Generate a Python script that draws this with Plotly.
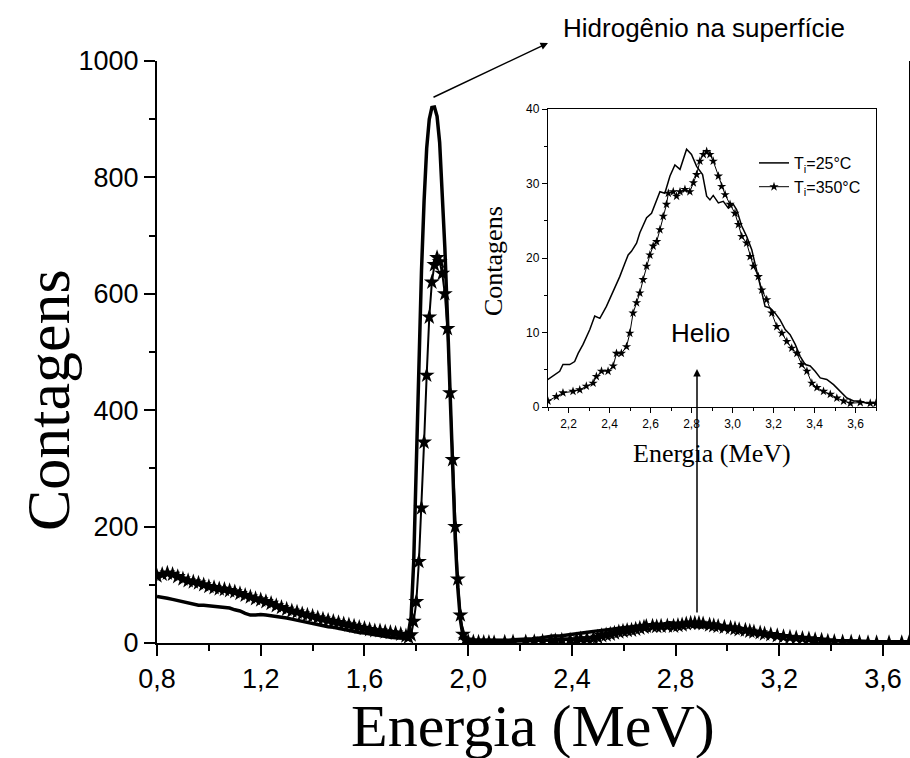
import plotly.graph_objects as go

# ---------------- data ----------------
# low-energy part, shared energy grid (MeV)
energy_low = [0.80, 0.82, 0.84, 0.86, 0.88, 0.90, 0.92, 0.94, 0.96, 0.98,
              1.00, 1.02, 1.04, 1.06, 1.08, 1.10, 1.12, 1.14, 1.16, 1.18,
              1.20, 1.22, 1.24, 1.26, 1.28, 1.30, 1.32, 1.34, 1.36, 1.38,
              1.40, 1.42, 1.44, 1.46, 1.48, 1.50, 1.52, 1.54, 1.56, 1.58,
              1.60, 1.62, 1.64, 1.66, 1.68, 1.70, 1.72, 1.74, 1.76]
counts25_low = [80, 79, 77, 75, 73, 71, 69, 67, 65, 65,
                64, 63, 63, 62, 60, 57, 55, 51, 48, 48,
                49, 48, 47, 46, 45, 43, 41, 39, 37, 35,
                33, 31, 30, 28, 27, 25, 24, 22, 20, 18,
                17, 15, 14, 13, 11, 10, 9, 8, 8]
counts350_low = [115, 118, 120, 118, 114, 110, 107, 105, 103, 100,
                 97, 95, 93, 92, 90, 88, 85, 82, 79, 76,
                 74, 71, 68, 64, 61, 58, 55, 53, 50, 48,
                 46, 43, 41, 39, 37, 35, 33, 31, 29, 27,
                 25, 23, 21, 21, 19, 18, 17, 15, 12]

# hydrogen (surface) peak region
energy_peak = [1.77, 1.78, 1.79, 1.80, 1.81, 1.82, 1.83, 1.84, 1.85, 1.86,
               1.87, 1.88, 1.89, 1.90, 1.91, 1.92, 1.93, 1.94, 1.95, 1.96,
               1.97, 1.98, 1.99, 2.00, 2.02, 2.04, 2.06, 2.08]
counts25_peak = [18, 45, 140, 320, 500, 640, 760, 850, 900, 920,
                 921, 905, 860, 780, 680, 560, 420, 290, 180, 95,
                 40, 12, 6, 5, 5, 4, 4, 4]
counts350_peak = [10, 14, 37, 71, 140, 232, 345, 460, 560, 620,
                  650, 662, 655, 635, 600, 540, 430, 315, 200, 110,
                  48, 15, 5, 3, 2, 1.5, 1.2, 1]

# helium region, T = 25 C
energy25_he = [2.100, 2.157, 2.173, 2.206, 2.230, 2.247, 2.271, 2.304, 2.328, 2.353,
               2.385, 2.418, 2.450, 2.475, 2.491, 2.507, 2.532, 2.548, 2.581, 2.605,
               2.630, 2.646, 2.670, 2.695, 2.719, 2.744, 2.776, 2.800, 2.825, 2.854,
               2.874, 2.890, 2.906, 2.931, 2.955, 2.980, 3.004, 3.020, 3.045, 3.069,
               3.094, 3.118, 3.143, 3.159, 3.183, 3.208, 3.232, 3.257, 3.281, 3.306,
               3.330, 3.355, 3.379, 3.403, 3.428, 3.460, 3.493, 3.526, 3.558, 3.591,
               3.623, 3.656, 3.700]
counts25_he = [3.7, 4.8, 5.7, 5.7, 6.1, 7.2, 8.4, 10.4, 12.2, 11.9,
               13.5, 15.5, 17.5, 19.3, 20.4, 20.9, 22.0, 23.4, 25.4, 26.0,
               27.8, 28.9, 28.7, 31.0, 32.5, 31.9, 34.6, 33.9, 32.3, 31.2,
               28.3, 27.8, 28.4, 27.4, 27.6, 26.7, 27.2, 26.5, 24.3, 22.9,
               21.1, 18.4, 15.7, 13.5, 13.3, 12.6, 11.7, 10.4, 9.7, 8.4,
               6.8, 5.7, 5.5, 4.8, 3.9, 3.7, 3.0, 2.1, 1.2, 0.8,
               0.8, 0.5, 0.5]

# helium region, T = 350 C
energy350_he = [2.100, 2.141, 2.173, 2.222, 2.255, 2.287, 2.320, 2.336, 2.361, 2.393,
                2.418, 2.434, 2.458, 2.483, 2.499, 2.515, 2.532, 2.548, 2.564, 2.581,
                2.597, 2.613, 2.630, 2.646, 2.662, 2.678, 2.687, 2.711, 2.727, 2.744,
                2.768, 2.792, 2.809, 2.825, 2.841, 2.858, 2.874, 2.890, 2.906, 2.931,
                2.947, 2.964, 2.988, 3.012, 3.029, 3.045, 3.069, 3.086, 3.102, 3.126,
                3.143, 3.167, 3.192, 3.216, 3.241, 3.265, 3.289, 3.314, 3.338, 3.363,
                3.387, 3.412, 3.444, 3.477, 3.509, 3.542, 3.575, 3.623, 3.672, 3.700]
counts350_he = [0.8, 1.4, 1.9, 2.1, 2.3, 2.8, 3.2, 4.1, 4.8, 4.8,
                5.5, 7.2, 7.2, 8.1, 9.9, 12.6, 14.0, 15.3, 17.1, 18.9,
                20.4, 21.6, 22.2, 23.8, 25.6, 27.2, 28.7, 28.9, 28.3, 28.9,
                29.2, 28.9, 30.1, 31.2, 33.0, 33.9, 34.3, 33.9, 33.0, 31.0,
                29.6, 28.5, 27.2, 26.0, 24.5, 22.9, 22.0, 20.2, 18.9, 17.5,
                15.7, 14.4, 12.6, 10.8, 9.9, 8.8, 7.9, 7.2, 5.7, 4.8,
                3.2, 2.6, 2.1, 1.7, 1.2, 0.8, 0.5, 0.6, 0.5, 0.5]

series_names = ["T<sub>i</sub>=25°C", "T<sub>i</sub>=350°C"]

main_xticks = [0.8, 1.2, 1.6, 2.0, 2.4, 2.8, 3.2, 3.6]
main_xticklabels = ["0,8", "1,2", "1,6", "2,0", "2,4", "2,8", "3,2", "3,6"]
main_yticks = [0, 200, 400, 600, 800, 1000]
main_yticklabels = ["0", "200", "400", "600", "800", "1000"]
inset_xticks = [2.2, 2.4, 2.6, 2.8, 3.0, 3.2, 3.4, 3.6]
inset_xticklabels = ["2,2", "2,4", "2,6", "2,8", "3,0", "3,2", "3,4", "3,6"]
inset_yticks = [0, 10, 20, 30, 40]
inset_yticklabels = ["0", "10", "20", "30", "40"]

# ---------------- assemble ----------------
e25 = energy_low + energy_peak + energy25_he
c25 = counts25_low + counts25_peak + counts25_he
e350 = energy_low + energy_peak + energy350_he
c350 = counts350_low + counts350_peak + counts350_he

W, H = 910, 758
def px(x):
    return x / W
def py(y):
    return 1 - y / H

SANS = "Liberation Sans, Arial, sans-serif"
SERIF = "Liberation Serif, Times New Roman, serif"

fig = go.Figure()
fig.add_trace(go.Scatter(x=e25, y=c25, mode="lines", xaxis="x", yaxis="y",
                         line=dict(color="black", width=3.5), showlegend=False,
                         name=series_names[0]))
fig.add_trace(go.Scatter(x=e350, y=c350, mode="lines+markers", xaxis="x", yaxis="y",
                         line=dict(color="black", width=2),
                         marker=dict(symbol="star", size=12, color="black"),
                         showlegend=False, name=series_names[1]))
fig.add_trace(go.Scatter(x=e25, y=c25, mode="lines", xaxis="x2", yaxis="y2",
                         line=dict(color="black", width=1.5), name=series_names[0]))
fig.add_trace(go.Scatter(x=e350, y=c350, mode="lines+markers", xaxis="x2", yaxis="y2",
                         line=dict(color="black", width=1),
                         marker=dict(symbol="star", size=7, color="black"),
                         name=series_names[1]))

axis_common = dict(showgrid=False, zeroline=False, showline=True, linecolor="black",
                   ticks="outside", tickcolor="black", automargin=False)

fig.update_layout(
    width=W, height=H,
    margin=dict(l=0, r=0, t=0, b=0, pad=0, autoexpand=False),
    paper_bgcolor="white", plot_bgcolor="white",
    xaxis=dict(**axis_common, domain=[px(157), px(909)], range=[0.8, 3.7], anchor="y",
               linewidth=2, ticklen=11, tickwidth=2,
               tickmode="array", tickvals=main_xticks, ticktext=main_xticklabels,
               tickfont=dict(family=SANS, size=27, color="black"),
               minor=dict(ticks="outside", ticklen=6, tickwidth=2, tickcolor="black",
                          tickmode="linear", tick0=0.8, dtick=0.2)),
    yaxis=dict(**axis_common, domain=[py(643), py(61)], range=[0, 1000], anchor="x",
               linewidth=2, ticklen=11, tickwidth=2, mirror=True,
               tickmode="array", tickvals=main_yticks, ticktext=main_yticklabels,
               tickfont=dict(family=SANS, size=27, color="black"),
               minor=dict(ticks="outside", ticklen=6, tickwidth=2, tickcolor="black",
                          tickmode="linear", tick0=0, dtick=100)),
    xaxis2=dict(**axis_common, domain=[px(548), px(876)], range=[2.1, 3.7], anchor="y2",
                linewidth=1.3, ticklen=5, tickwidth=1, mirror=True,
                tickmode="array", tickvals=inset_xticks, ticktext=inset_xticklabels,
                tickfont=dict(family=SANS, size=12, color="black"),
                minor=dict(ticks="outside", ticklen=3, tickwidth=1, tickcolor="black",
                           tickmode="linear", tick0=2.1, dtick=0.1)),
    yaxis2=dict(**axis_common, domain=[py(407), py(109)], range=[0, 40], anchor="x2",
                linewidth=1.3, ticklen=5, tickwidth=1, mirror=True,
                tickmode="array", tickvals=inset_yticks, ticktext=inset_yticklabels,
                tickfont=dict(family=SANS, size=12, color="black"),
                minor=dict(ticks="outside", ticklen=3, tickwidth=1, tickcolor="black",
                           tickmode="linear", tick0=0, dtick=5)),
    legend=dict(x=px(754), y=py(146), xanchor="left", yanchor="top",
                bgcolor="rgba(0,0,0,0)", font=dict(family=SANS, size=16, color="black"),
                itemwidth=30, tracegroupgap=0),
    showlegend=True,
)

annots = [
    dict(text="Contagens", x=px(48), y=py(400), textangle=-90,
         font=dict(family=SERIF, size=62, color="black")),
    dict(text="Energia (MeV)", x=px(533), y=py(726),
         font=dict(family=SERIF, size=60, color="black")),
    dict(text="Energia (MeV)", x=px(712), y=py(453),
         font=dict(family=SERIF, size=26, color="black")),
    dict(text="Contagens", x=px(493), y=py(261), textangle=-90,
         font=dict(family=SERIF, size=26, color="black")),
    dict(text="Helio", x=px(700), y=py(333),
         font=dict(family=SANS, size=26, color="black")),
    dict(text="Hidrogênio na superfície", x=px(704), y=py(28),
         font=dict(family=SANS, size=26, color="black")),
]
for a in annots:
    fig.add_annotation(xref="paper", yref="paper", showarrow=False,
                       xanchor="center", yanchor="middle", **a)

# arrows
fig.add_annotation(xref="paper", yref="paper", x=px(697), y=py(369), text="",
                   showarrow=True, axref="pixel", ayref="pixel", ax=0, ay=245,
                   arrowhead=2, arrowsize=1, arrowwidth=1.5, arrowcolor="black")
fig.add_annotation(xref="paper", yref="paper", x=px(548), y=py(43), text="",
                   showarrow=True, axref="pixel", ayref="pixel", ax=-116, ay=55,
                   arrowhead=2, arrowsize=1, arrowwidth=1.5, arrowcolor="black")

fig.write_html("out.html")
